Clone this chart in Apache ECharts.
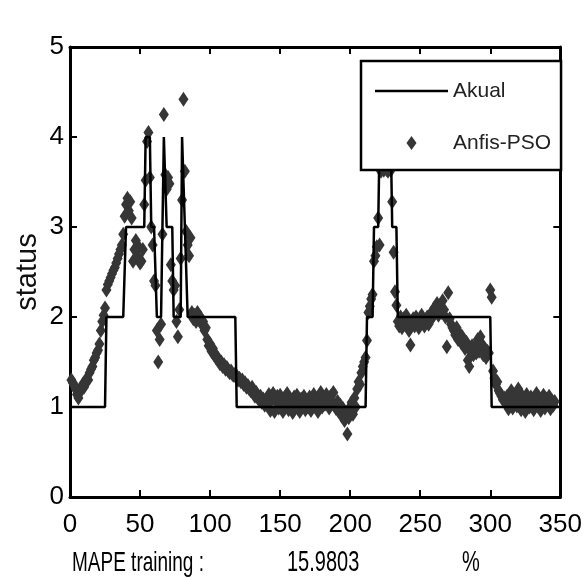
<!DOCTYPE html>
<html>
<head>
<meta charset="utf-8">
<script src="https://cdn.jsdelivr.net/npm/echarts@6/dist/echarts.min.js"></script>
<style>
html,body{margin:0;padding:0;background:#fff;}
#chart{width:585px;height:581px;}
</style>
</head>
<body>
<div id="chart"></div>
<script>
// ---- Data ----
const seriesNames = ['Akual', 'Anfis-PSO'];
// Actual status: breakpoints (x, status)
const actualX = [1, 25, 26, 38, 40, 53, 54, 57, 58, 60, 62, 65, 67, 68, 69, 73, 74, 79, 80, 81, 82, 83, 84, 118, 119, 211, 212, 216, 217, 220, 221, 229, 230, 233, 234, 300, 301, 349];
const actualY = [1, 1, 2, 2, 3, 3, 4, 4, 3, 3, 2, 2, 4, 4, 3, 3, 2, 2, 4, 4, 3, 3, 2, 2, 1, 1, 2, 2, 3, 3, 4, 4, 3, 3, 2, 2, 1, 1];
// Anfis-PSO prediction, one value per sample (x = 1..346)
const predicted = [
  1.30, 1.27, 1.24, 1.20, 1.14, 1.10, 1.16, 1.20, 1.25, 1.22,
  1.28, 1.32, 1.30, 1.38, 1.42, 1.45, 1.52, 1.55, 1.60, 1.63,
  1.70, 1.85, 1.95, 2.02, 2.10, 2.30, 2.36, 2.40, 2.44, 2.48,
  2.52, 2.55, 2.60, 2.65, 2.70, 2.75, 2.80, 2.92, 3.12, 3.25,
  3.32, 3.18, 3.28, 3.10, 2.62, 2.75, 2.85, 2.68, 2.78, 2.60,
  2.62, 2.75, 3.25, 3.52, 3.95, 4.05, 3.55, 3.00, 2.80, 2.40,
  2.35, 1.85, 1.50, 1.75, 1.92, 2.92, 4.25, 3.58, 3.42, 3.55,
  3.48, 2.58, 2.40, 2.30, 2.35, 1.95, 1.78, 2.08, 2.65, 3.30,
  4.42, 3.62, 2.95, 2.80, 2.68, 2.88, 2.05, 1.98, 2.02, 1.95,
  2.05, 1.98, 2.00, 1.92, 1.95, 1.85, 1.88, 1.75, 1.68, 1.70,
  1.62, 1.65, 1.58, 1.55, 1.56, 1.52, 1.48, 1.50, 1.45, 1.47,
  1.42, 1.44, 1.40, 1.38, 1.40, 1.36, 1.35, 1.37, 1.33, 1.30,
  1.32, 1.28, 1.30, 1.25, 1.27, 1.22, 1.24, 1.20, 1.18, 1.22,
  1.15, 1.12, 1.16, 1.10, 1.08, 1.12, 1.05, 1.09, 1.02, 1.07,
  1.04, 1.14, 0.96, 1.08, 1.15, 0.95, 1.06, 1.12, 0.99, 1.13,
  1.02, 0.95, 1.10, 1.05, 1.15, 0.97, 1.08, 1.02, 0.94, 1.11,
  1.04, 1.13, 0.98, 0.95, 1.09, 1.03, 1.12, 0.97, 1.06, 1.00,
  1.11, 0.96, 1.04, 1.14, 1.01, 1.08, 0.95, 1.06, 1.16, 1.00,
  1.09, 1.03, 1.14, 1.07, 0.99, 1.12, 1.04, 1.16, 1.02, 0.98,
  1.06, 0.95, 1.02, 0.90, 0.98, 0.85, 0.92, 0.70, 0.88, 1.00,
  1.05, 0.92, 1.10, 1.00, 1.20, 1.28, 1.25, 1.38, 1.45, 1.50,
  1.55, 1.74, 2.05, 2.12, 2.20, 2.25, 2.62, 2.68, 2.78, 3.10,
  2.80, 3.62, 3.65, 3.63, 3.66, 3.64, 3.62, 3.65, 3.63, 3.28,
  2.72, 2.28, 2.13, 1.95, 1.90, 2.00, 1.88, 1.98, 1.92, 2.02,
  1.95, 1.85, 1.69, 1.92, 1.98, 1.90, 2.00, 1.94, 1.88, 1.98,
  2.02, 1.95, 1.90, 1.96, 2.00, 1.92, 1.98, 2.05, 2.00, 2.10,
  2.08, 2.15, 2.02, 2.12, 2.05, 2.18, 2.08, 2.00, 1.67, 2.27,
  1.98, 1.92, 1.88, 1.85, 1.80, 1.88, 1.75, 1.82, 1.72, 1.78,
  1.70, 1.65, 1.72, 1.52, 1.45, 1.62, 1.68, 1.58, 1.65, 1.60,
  1.75, 1.62, 1.78, 1.70, 1.58, 1.65, 1.55, 1.62, 1.60, 2.30,
  2.22, 1.40, 1.32, 1.25, 1.28, 1.18, 1.15, 1.12, 1.08, 1.10,
  1.06, 1.12, 0.98, 1.08, 1.18, 0.99, 1.05, 1.14, 1.01, 1.20,
  1.06, 0.97, 1.12, 1.03, 0.95, 1.14, 1.07, 1.00, 1.11, 1.03,
  0.97, 1.08, 1.15, 1.01, 1.10, 0.96, 1.05, 1.13, 0.99, 1.09,
  1.03, 1.12, 0.98, 1.07, 1.02, 1.06
];
const xTicks = {min: 0, max: 350, interval: 50};
const yTicks = {min: 0, max: 5, interval: 1};
const yAxisTitle = 'status';
const footerLabel = 'MAPE training :';
const footerValue = '15.9803';
const footerUnit = '%';

// ---- Chart ----
const NARROW = '"Liberation Sans Narrow", "Arial Narrow", "Liberation Sans", Arial, sans-serif';
const REG = '"Liberation Sans", Arial, sans-serif';
const chart = echarts.init(document.getElementById('chart'), null, {renderer: 'canvas'});

const axisLine = {show: true, onZero: false, lineStyle: {color: '#000', width: 3}};
const tick = {show: true, inside: true, length: 7, lineStyle: {color: '#000', width: 2}};

const option = {
  backgroundColor: '#fff',
  animation: false,
  grid: {left: 70, right: 20, top: 47, bottom: 84, containLabel: false},
  legend: {
    orient: 'vertical',
    left: 361, top: 61,
    padding: [15, 10, 12, 14],
    itemGap: 22,
    itemWidth: 73, itemHeight: 14,
    backgroundColor: '#fff',
    borderColor: '#000', borderWidth: 2.5, borderRadius: 0,
    textStyle: {color: '#222', fontFamily: NARROW, fontSize: 21, lineHeight: 30},
    data: [
      {name: seriesNames[0], icon: 'path://M0,0 L73,0 L73,2.5 L0,2.5 Z', itemStyle: {color: '#000'}},
      {name: seriesNames[1], icon: 'path://M5,0 L10,7 L5,14 L0,7 Z'}
    ],
    z: 10
  },
  xAxis: [
    {type: 'value', position: 'bottom', min: xTicks.min, max: xTicks.max, interval: xTicks.interval,
     axisLine: axisLine, axisTick: tick, splitLine: {show: false},
     axisLabel: {color: '#000', fontFamily: NARROW, fontSize: 26, margin: 15}},
    {type: 'value', position: 'top', min: xTicks.min, max: xTicks.max, interval: xTicks.interval,
     axisLine: axisLine, axisTick: tick, splitLine: {show: false}, axisLabel: {show: false}}
  ],
  yAxis: [
    {type: 'value', position: 'left', min: yTicks.min, max: yTicks.max, interval: yTicks.interval,
     name: yAxisTitle, nameLocation: 'middle', nameGap: 28, nameRotate: 90, nameMoveOverlap: false,
     nameTextStyle: {color: '#111', fontFamily: REG, fontSize: 29},
     axisLine: axisLine, axisTick: tick, splitLine: {show: false},
     axisLabel: {color: '#000', fontFamily: NARROW, fontSize: 26, margin: 6}},
    {type: 'value', position: 'right', min: yTicks.min, max: yTicks.max, interval: yTicks.interval,
     axisLine: axisLine, axisTick: tick, splitLine: {show: false}, axisLabel: {show: false}}
  ],
  series: [
    {
      name: seriesNames[0], type: 'line',
      data: actualX.map((x, i) => [x, actualY[i]]),
      symbol: 'none', showSymbol: false,
      lineStyle: {color: '#000', width: 2.5},
      itemStyle: {color: '#000'},
      z: 5
    },
    {
      name: seriesNames[1], type: 'scatter',
      data: predicted.map((v, i) => [i + 1, v]),
      symbol: 'diamond', symbolSize: [10, 15],
      itemStyle: {color: '#363636', opacity: 1},
      z: 3
    }
  ],
  graphic: [
    {type: 'text', x: 72, y: 563, scaleY: 1.5, style: {text: footerLabel, fill: '#000', font: '19px ' + NARROW, verticalAlign: 'middle', align: 'left'}},
    {type: 'text', x: 287, y: 563, scaleY: 1.5, style: {text: footerValue, fill: '#000', font: '20px ' + NARROW, verticalAlign: 'middle', align: 'left'}},
    {type: 'text', x: 462, y: 563, scaleY: 1.5, style: {text: footerUnit, fill: '#000', font: '20px ' + NARROW, verticalAlign: 'middle', align: 'left'}}
  ]
};
chart.setOption(option);
</script>
</body>
</html>
